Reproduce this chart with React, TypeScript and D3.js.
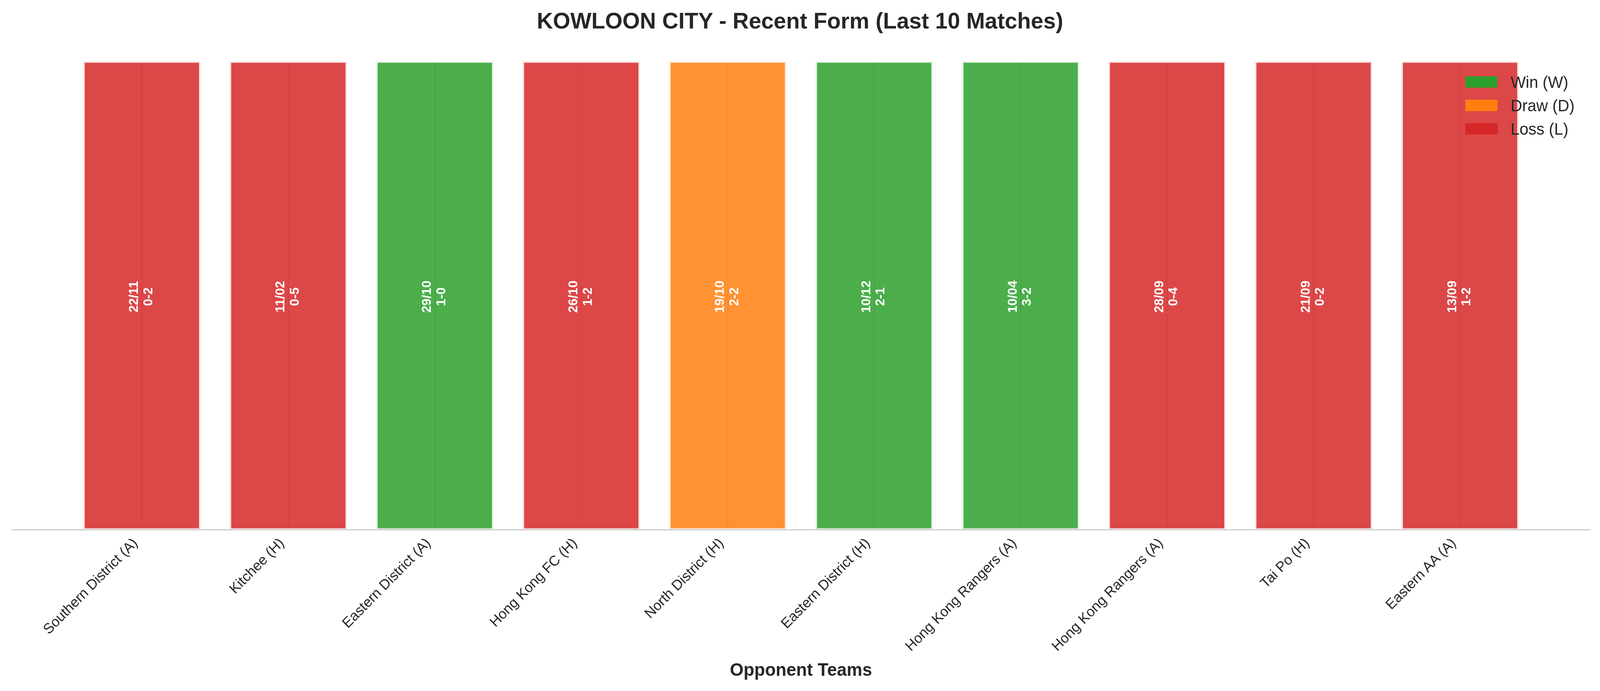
import React, { useEffect, useRef } from "react";
import * as d3 from "d3";

const opponents = [
  "Southern District (A)",
  "Kitchee (H)",
  "Eastern District (A)",
  "Hong Kong FC (H)",
  "North District (H)",
  "Eastern District (H)",
  "Hong Kong Rangers (A)",
  "Hong Kong Rangers (A)",
  "Tai Po (H)",
  "Eastern AA (A)",
];
const matchDates = ["22/11", "11/02", "29/10", "26/10", "19/10", "10/12", "10/04", "28/09", "21/09", "13/09"];
const scores = ["0-2", "0-5", "1-0", "1-2", "2-2", "2-1", "3-2", "0-4", "0-2", "1-2"];
const results = ["L", "L", "W", "L", "D", "W", "W", "L", "L", "L"];
const barHeights = [1, 1, 1, 1, 1, 1, 1, 1, 1, 1];

const legendKeys = ["W", "D", "L"];
const legendLabels = ["Win (W)", "Draw (D)", "Loss (L)"];
const resultColors: Record<string, string> = { W: "#2ca02c", D: "#ff7f0e", L: "#d62728" };

function App() {
  const ref = useRef<SVGSVGElement | null>(null);
  const width = 4170;
  const height = 1770;
  const marginTop = 157;
  const marginBottom = 413;
  const marginLeft = 30;
  const marginRight = 25;
  const font = "'Liberation Sans', Arial, sans-serif";
  const ink = "#262626";

  useEffect(() => {
    document.body.style.margin = "0";
    document.body.style.overflow = "hidden";

    const n = opponents.length;
    // same limits matplotlib gives a bar chart (5% margin)
    const x = d3
      .scaleLinear()
      .domain([-0.4 - 0.049 * n, n - 0.6 + 0.049 * n])
      .range([marginLeft, width - marginRight]);
    const y = d3
      .scaleLinear()
      .domain([0, 1])
      .range([height - marginBottom, marginTop]);

    const svg = d3.select(ref.current);
    svg.selectAll("*").remove();
    // the viewport may be narrower than the figure, so stretch to fill it
    svg
      .attr("viewBox", [0, 0, width, height])
      .attr("preserveAspectRatio", "none")
      .style("font-family", font);

    svg.append("rect").attr("width", width).attr("height", height).attr("fill", "white");

    // vertical grid lines (behind the bars)
    svg
      .append("g")
      .selectAll("line")
      .data(d3.range(n))
      .join("line")
      .attr("x1", (i) => x(i))
      .attr("x2", (i) => x(i))
      .attr("y1", y(1))
      .attr("y2", y(0))
      .attr("stroke", "#cccccc")
      .attr("stroke-width", 2.7);

    const bw = x(0.8) - x(0);
    svg
      .append("g")
      .selectAll("rect")
      .data(d3.range(n))
      .join("rect")
      .attr("x", (i) => x(i) - bw / 2)
      .attr("width", bw)
      .attr("y", (i) => y(barHeights[i]))
      .attr("height", (i) => y(0) - y(barHeights[i]))
      .attr("fill", (i) => resultColors[results[i]])
      .attr("fill-opacity", 0.85)
      .attr("stroke", "white")
      .attr("stroke-opacity", 0.85)
      .attr("stroke-width", 7.5);

    // date + score inside each bar
    const lab = svg
      .append("g")
      .selectAll("text")
      .data(d3.range(n))
      .join("text")
      .attr("transform", (i) => `translate(${x(i)},${y(barHeights[i] / 2) + 3}) rotate(-90)`)
      .attr("text-anchor", "middle")
      .attr("font-size", 33)
      .attr("font-weight", "bold")
      .attr("fill", "white");
    lab.append("tspan").attr("x", 0).attr("y", -10).text((i) => matchDates[i]);
    lab.append("tspan").attr("x", 0).attr("y", 27).text((i) => scores[i]);

    // bottom spine
    svg
      .append("line")
      .attr("x1", marginLeft)
      .attr("x2", width - marginRight)
      .attr("y1", y(0))
      .attr("y2", y(0))
      .attr("stroke", "#cccccc")
      .attr("stroke-width", 2.8);

    // x tick labels, rotated 45 and right aligned on the tick
    svg
      .append("g")
      .selectAll("text")
      .data(d3.range(n))
      .join("text")
      .attr("transform", (i) => `translate(${x(i) - 9},${y(0) + 36}) rotate(-45)`)
      .attr("text-anchor", "end")
      .attr("font-size", 36.7)
      .attr("fill", ink)
      .text((i) => opponents[i]);

    svg
      .append("text")
      .attr("x", width / 2)
      .attr("y", 73)
      .attr("text-anchor", "middle")
      .attr("font-size", 58.3)
      .attr("font-weight", "bold")
      .attr("fill", ink)
      .text("KOWLOON CITY - Recent Form (Last 10 Matches)");

    svg
      .append("text")
      .attr("x", (marginLeft + width - marginRight) / 2)
      .attr("y", 1731)
      .attr("text-anchor", "middle")
      .attr("font-size", 45.8)
      .attr("font-weight", "bold")
      .attr("fill", ink)
      .text("Opponent Teams");

    // legend, no frame
    const legend = svg
      .append("g")
      .selectAll("g")
      .data(legendKeys)
      .join("g")
      .attr("transform", (_, i) => `translate(3819,${210 + i * 60})`);
    legend
      .append("rect")
      .attr("y", -14.5)
      .attr("width", 84)
      .attr("height", 29)
      .attr("fill", (k) => resultColors[k]);
    legend
      .append("text")
      .attr("x", 118)
      .attr("y", 15)
      .attr("font-size", 41.7)
      .attr("fill", ink)
      .text((_, i) => legendLabels[i]);
  }, []);

  return (
    <div style={{ position: "fixed", left: 0, top: 0, right: 0, bottom: 0 }}>
      <svg ref={ref} style={{ display: "block", width: "100%", height: "100%" }}></svg>
    </div>
  );
}

export default App;
